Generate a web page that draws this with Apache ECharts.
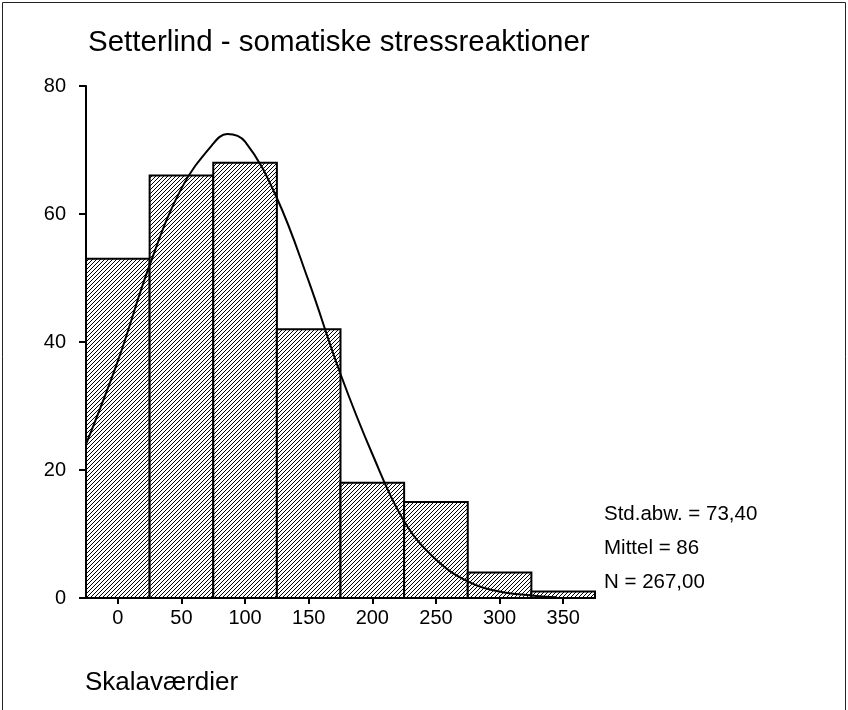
<!DOCTYPE html>
<html>
<head>
<meta charset="utf-8">
<script src="https://cdn.jsdelivr.net/npm/echarts@6/dist/echarts.min.js"></script>
<style>
  html, body { margin: 0; padding: 0; background: #fff; }
  #main { width: 848px; height: 710px; }
</style>
</head>
<body>
<div id="main"></div>
<script>
// histogram bins (centre of bin) and counts
let binCenters = [0, 50, 100, 150, 200, 250, 300, 350];
let binCounts = [53, 66, 68, 42, 18, 15, 4, 1];
let binWidth = 50;

// normal curve
let curveX = [-25, 0, 25, 50, 75, 86, 100, 125, 150, 175, 200, 225, 250, 275, 300, 325, 345];
let curveY = [24, 37, 52, 64, 71, 72.5, 71.3, 62.5, 49.5, 35, 22.5, 12, 6, 2.6, 1, 0.4, 0.1];

let xTicks = [0, 50, 100, 150, 200, 250, 300, 350];
let statsLines = ['Std.abw. = 73,40', 'Mittel = 86', 'N = 267,00'];

let FONT = '"Liberation Sans", Arial, Helvetica, sans-serif';

function hatch() {
	let c = document.createElement('canvas');
	c.width = 4;
	c.height = 4;
	let ctx = c.getContext('2d');
	ctx.fillStyle = '#fff';
	ctx.fillRect(0, 0, 4, 4);
	ctx.fillStyle = '#000';
	for (let i = 0; i < 4; i++) {
		ctx.fillRect(3 - i, i, 1, 1);
	}
	return c;
}
let hatchPattern = { image: hatch(), repeat: 'repeat' };

let myChart = echarts.init(document.getElementById('main'), null, { renderer: 'canvas' });

let option = {
	animation: false,
	backgroundColor: '#fff',
	title: {
		text: 'Setterlind - somatiske stressreaktioner',
		left: 88,
		top: 28,
		padding: 0,
		textStyle: {
			fontFamily: FONT,
			fontSize: 29.5,
			fontWeight: 'normal',
			color: '#000'
		}
	},
	grid: {
		left: 86,
		top: 86,
		right: 253,
		bottom: 112
	},
	xAxis: {
		type: 'value',
		min: -25,
		max: 375,
		axisLine: { onZero: false, lineStyle: { color: '#000', width: 2 } },
		axisTick: { customValues: xTicks, length: 6, lineStyle: { color: '#000', width: 2 } },
		axisLabel: { customValues: xTicks, color: '#000', fontSize: 20, fontFamily: FONT, margin: 10 },
		splitLine: { show: false }
	},
	yAxis: {
		type: 'value',
		min: 0,
		max: 80,
		interval: 20,
		axisLine: { show: true, onZero: false, lineStyle: { color: '#000', width: 2 } },
		axisTick: { show: true, length: 7, lineStyle: { color: '#000', width: 2 } },
		axisLabel: { color: '#000', fontSize: 20, fontFamily: FONT, margin: 20 },
		splitLine: { show: false }
	},
	graphic: [
		{
			type: 'rect',
			shape: { x: 2.5, y: 2.5, width: 843, height: 760 },
			style: { fill: 'none', stroke: '#222', lineWidth: 1 },
			silent: true
		},
		{
			type: 'text',
			left: 85,
			top: 670,
			style: { text: 'Skalaværdier', fontFamily: FONT, fontSize: 26, fill: '#000' }
		}
	].concat(statsLines.map(function(s, i) {
		return {
			type: 'text',
			left: 604,
			top: 504 + i * 34,
			style: { text: s, fontFamily: FONT, fontSize: 20.5, fill: '#000' }
		};
	})),
	series: [
		{
			type: 'custom',
			data: binCenters.map(function(x, i) {
				return [x, binCounts[i]];
			}),
			renderItem: function(params, api) {
				let x = api.value(0);
				let y = api.value(1);
				let p0 = api.coord([x - binWidth / 2, y]);
				let p1 = api.coord([x + binWidth / 2, 0]);
				return {
					type: 'rect',
					shape: { x: p0[0], y: p0[1], width: p1[0] - p0[0], height: p1[1] - p0[1] },
					style: { fill: hatchPattern, stroke: '#000', lineWidth: 2 }
				};
			},
			z: 2
		},
		{
			type: 'line',
			data: curveX.map(function(x, i) {
				return [x, curveY[i]];
			}),
			smooth: 0.4,
			showSymbol: false,
			lineStyle: { color: '#000', width: 2 },
			z: 3
		}
	]
};

myChart.setOption(option);
</script>
</body>
</html>
